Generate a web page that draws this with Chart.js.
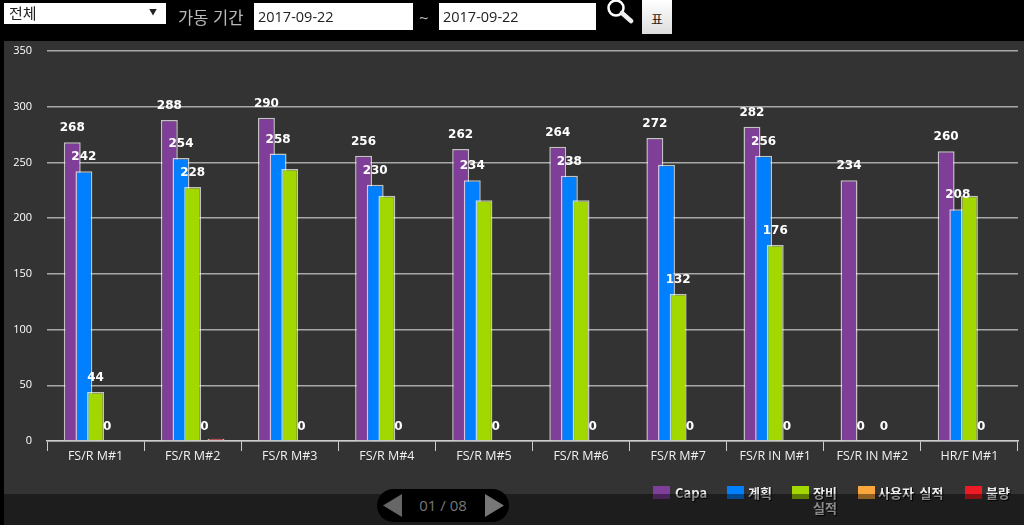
<!DOCTYPE html>
<html lang="ko">
<head>
<meta charset="utf-8">
<title>가동 기간</title>
<script src="https://cdn.jsdelivr.net/npm/chart.js@4/dist/chart.umd.min.js"></script>
<style>
  html, body { margin: 0; padding: 0; background: #000; overflow: hidden; }
  body { width: 1024px; height: 525px; position: relative; font-family: "Noto Sans CJK KR", "Open Sans", sans-serif; }
  #panel { position: absolute; left: 4px; top: 41px; width: 1020px; height: 484px; background: #333; }
  #chart { position: absolute; left: 0; top: 0; }
  .box { position: absolute; background: #fff; color: #222; box-sizing: border-box; font-size: 15px; }
  #sel { left: 4px; top: 3px; width: 162px; height: 21px; line-height: 20px; padding-left: 5px; }
  #sel span { position: absolute; right: 9px; top: -1px; font-size: 8px; }
  .date { top: 3px; height: 27px; line-height: 27px; padding-left: 4px; font-family: "Open Sans", sans-serif; font-size: 14.5px; }
  #d1 { left: 254px; width: 159px; }
  #d2 { left: 439px; width: 157px; }
  .lbl { position: absolute; color: #bbb; font-size: 16.5px; line-height: 20px; top: 7px; }
  #btn { position: absolute; left: 642px; top: 0; width: 30px; height: 34px; line-height: 38px; text-align: center; font-size: 13px; color: #222; background: linear-gradient(#fff, #ddd); }
  #mag { position: absolute; left: 606px; top: -1px; }
  #legend div.item { position: absolute; top: 485px; color: #eee; font-size: 13px; font-weight: 700; line-height: 15px; text-shadow: 1px 1px 1px #000; white-space: pre; word-spacing: 2px; }
  #legend i { position: absolute; top: 486px; width: 17px; height: 13px; }
  #shade { position: absolute; left: 0; top: 494px; width: 1024px; height: 31px; background: rgba(0, 0, 0, .42); }
  #pager { position: absolute; left: 377px; top: 489px; width: 132px; height: 33px; border-radius: 17px; background: #000; color: #777; font: 15px/33px "Open Sans", sans-serif; text-align: center; }
  #pager svg { position: absolute; top: 5px; }
</style>
</head>
<body>
<div id="panel"></div>
<canvas id="chart" width="1024" height="525"></canvas>

<div id="sel" class="box">전체<span>▼</span></div>
<div class="lbl" style="left:178px">가동 기간</div>
<div id="d1" class="box date"></div>
<div class="lbl" style="left:419px;top:8px;font-family:'Open Sans'">~</div>
<div id="d2" class="box date"></div>
<svg id="mag" width="29" height="25" viewBox="0 0 29 25">
  <circle cx="10" cy="9" r="7.5" fill="none" stroke="#fff" stroke-width="2.5"/>
  <line x1="16" y1="14" x2="25" y2="22" stroke="#eee" stroke-width="4.5" stroke-linecap="round"/>
</svg>
<div id="btn">표</div>

<div id="legend"></div>
<div id="shade"></div>
<div id="pager">
  <svg style="left:6px" width="19" height="23"><polygon points="19,0 19,23 0,11.5" fill="#666"/></svg>
  <span id="pageText"></span>
  <svg style="right:5px" width="19" height="23"><polygon points="0,0 0,23 19,11.5" fill="#777"/></svg>
</div>

<script>
// 데이터
const categories = ["FS/R M#1", "FS/R M#2", "FS/R M#3", "FS/R M#4", "FS/R M#5", "FS/R M#6", "FS/R M#7", "FS/R IN M#1", "FS/R IN M#2", "HR/F M#1"];
const yTicks = [0, 50, 100, 150, 200, 250, 300, 350];

const capa = [268, 288, 290, 256, 262, 264, 272, 282, 234, 260];
const plan = [242, 254, 258, 230, 234, 238, 248, 256, 0, 208];
const equip = [44, 228, 244, 220, 216, 216, 132, 176, null, 220];
const userResult = [0, 0, 0, 0, 0, 0, 0, 0, 0, 0];
const defect = [0, 2, 0, 0, 0, 0, 0, 0, 0, 0];

// 겹쳐서 안보이는 라벨은 null
const capaLabels = [268, 288, 290, 256, 262, 264, 272, 282, 234, 260];
const planLabels = [242, 254, 258, 230, 234, 238, null, 256, 0, 208];
const equipLabels = [44, 228, null, null, null, null, 132, 176, null, null];
const userLabels = [0, 0, 0, 0, 0, 0, 0, 0, 0, 0];
const defectLabels = [null, null, null, null, null, null, null, null, null, null];

const seriesNames = ["Capa", "계획", "장비 실적", "사용자 실적", "불량"];
const seriesColors = ["#7f3f98", "#0080ff", "#a2d700", "#f9a63c", "#ed1c24"];
const seriesData = [capa, plan, equip, userResult, defect];
const seriesLabels = [capaLabels, planLabels, equipLabels, userLabels, defectLabels];

const startDate = "2017-09-22";
const endDate = "2017-09-22";
const pageText = "01 / 08";

document.getElementById("d1").innerText = startDate;
document.getElementById("d2").innerText = endDate;
document.getElementById("pageText").innerText = pageText;

// 범례
const legendSwatchX = [653, 727, 792, 858, 965];
const legendTextX = [675, 748, 813, 878, 986];
const legendEl = document.getElementById("legend");
seriesNames.forEach((name, i) => {
  const swatch = document.createElement("i");
  swatch.style.left = legendSwatchX[i] + "px";
  swatch.style.background = seriesColors[i];
  legendEl.appendChild(swatch);
  const text = document.createElement("div");
  text.className = "item";
  text.style.left = legendTextX[i] + "px";
  text.innerText = name === "장비 실적" ? "장비\n실적" : name;
  legendEl.appendChild(text);
});

// 뒤 시리즈가 위로 오도록 앞에서부터 그리고, 그 위에 숫자를 쓴다
const barLabels = {
  id: "barLabels",
  beforeDatasetsDraw(chart) {
    chart.getSortedVisibleDatasetMetas().forEach((meta) => meta.controller.draw());
    const ctx = chart.ctx;
    ctx.save();
    ctx.font = "700 12px 'DejaVu Sans', sans-serif";
    ctx.fillStyle = "#fff";
    ctx.textAlign = "center";
    ctx.textBaseline = "middle";
    seriesLabels.forEach((labels, s) => {
      const meta = chart.getDatasetMeta(s);
      labels.forEach((value, i) => {
        if (value === null) return;
        const bar = meta.data[i];
        ctx.fillText(value, bar.x, bar.y - 14);
      });
    });
    ctx.restore();
    return false;
  }
};

new Chart(document.getElementById("chart"), {
  type: "bar",
  data: {
    labels: categories,
    datasets: seriesNames.map((name, i) => ({
      label: name,
      data: seriesData[i],
      backgroundColor: seriesColors[i],
      borderColor: "rgba(255,255,255,.7)",
      borderWidth: (c) => (c.raw ? 1.5 : 0),
      categoryPercentage: 0.6,
      barPercentage: 1.45
    }))
  },
  options: {
    responsive: false,
    animation: false,
    layout: { padding: { top: 51, right: 6, left: 0, bottom: 0 } },
    plugins: { legend: { display: false }, tooltip: { enabled: false } },
    scales: {
      x: {
        grid: { drawOnChartArea: false, drawTicks: true, tickLength: 10, color: "#ccc" },
        border: { color: "#ccc", width: 1.5 },
        ticks: { color: "#f0f0f0", font: { family: "'Open Sans', sans-serif", size: 12.5 }, padding: -2, maxRotation: 0 },
        afterFit(scale) { scale.height = 84; }
      },
      y: {
        min: 0,
        max: 350,
        afterBuildTicks(scale) { scale.ticks = yTicks.map((v) => ({ value: v })); },
        grid: { color: "#a8a8a8", lineWidth: 1.5, drawTicks: false },
        border: { display: false },
        ticks: { color: "#fff", font: { family: "'Open Sans', sans-serif", size: 11 }, padding: 15 },
        afterFit(scale) { scale.width = 47; }
      }
    }
  },
  plugins: [barLabels]
});
</script>
</body>
</html>
